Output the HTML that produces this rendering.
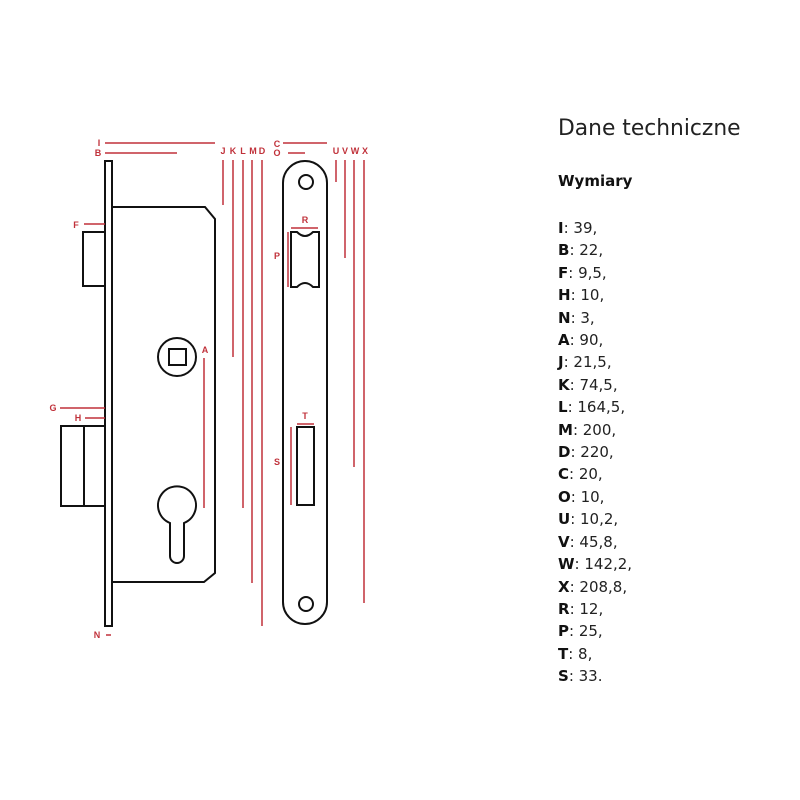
<!DOCTYPE html>
<html><head><meta charset="utf-8"><style>
body{margin:0;width:800px;height:800px;background:#fff;position:relative;overflow:hidden;font-family:"DejaVu Sans","Liberation Sans",sans-serif;color:#222}
.t{position:absolute;left:558px;top:116px;font-size:21.8px;color:#222}
.w{position:absolute;left:558px;top:172px;font-size:15px;font-weight:bold;color:#111}
.l{position:absolute;left:558px;top:217px;font-size:15px;line-height:22.4px;color:#222}
.l b{color:#111}
</style></head><body>
<svg width="800" height="800" style="position:absolute;left:0;top:0">
<g fill="none" stroke="#111" stroke-width="2">
<rect x="105" y="161" width="7" height="465"/>
<path d="M112 207 H205 L215 219 V573 L204 582 H112"/>
<rect x="83" y="232" width="22" height="54"/>
<rect x="61" y="426" width="44" height="80"/>
<line x1="84" y1="426" x2="84" y2="506"/>
<circle cx="177" cy="357" r="19"/>
<rect x="169" y="349" width="17" height="16"/>
<path d="M170 523 A19 19 0 1 1 184 523 V556 A7 7 0 0 1 170 556 Z"/>
<path d="M283 183 A22 22 0 0 1 327 183 V602 A22 22 0 0 1 283 602 Z"/>
<circle cx="306" cy="182" r="7"/>
<circle cx="306" cy="604" r="7"/>
<path d="M291 232 H297 Q305 240 313 232 H319 V287 H313 Q305 279 297 287 H291 Z"/>
<rect x="297" y="427" width="17" height="78"/>
</g>
<g stroke="#c0313a" stroke-width="1.5" fill="none">
<line x1="105" y1="143" x2="215" y2="143"/>
<line x1="105" y1="153" x2="177" y2="153"/>
<line x1="223" y1="160" x2="223" y2="205"/>
<line x1="233" y1="160" x2="233" y2="357"/>
<line x1="243" y1="160" x2="243" y2="508"/>
<line x1="252" y1="160" x2="252" y2="583"/>
<line x1="262" y1="160" x2="262" y2="626"/>
<line x1="283" y1="143" x2="327" y2="143"/>
<line x1="288" y1="153" x2="305" y2="153"/>
<line x1="336" y1="160" x2="336" y2="182"/>
<line x1="345" y1="160" x2="345" y2="258"/>
<line x1="354" y1="160" x2="354" y2="467"/>
<line x1="364" y1="160" x2="364" y2="603"/>
<line x1="84" y1="224" x2="105" y2="224"/>
<line x1="60" y1="408" x2="105" y2="408"/>
<line x1="85" y1="418" x2="105" y2="418"/>
<line x1="106" y1="635" x2="111" y2="635"/>
<line x1="204" y1="358" x2="204" y2="508"/>
<line x1="291" y1="228" x2="318" y2="228"/>
<line x1="288" y1="232" x2="288" y2="287"/>
<line x1="297" y1="424" x2="314" y2="424"/>
<line x1="291" y1="427" x2="291" y2="505"/>
</g>
<g fill="#c0313a" font-family="Liberation Sans,sans-serif" font-size="9" font-weight="bold" text-anchor="middle">
<text x="99" y="146">I</text><text x="98" y="156">B</text>
<text x="223" y="154">J</text><text x="233" y="154">K</text><text x="243" y="154">L</text><text x="253" y="154">M</text><text x="262" y="154">D</text>
<text x="277" y="147">C</text><text x="277" y="156">O</text>
<text x="336" y="154">U</text><text x="345" y="154">V</text><text x="355" y="154">W</text><text x="365" y="154">X</text>
<text x="76" y="228">F</text><text x="53" y="411">G</text><text x="78" y="421">H</text><text x="97" y="638">N</text>
<text x="205" y="353">A</text><text x="305" y="223">R</text><text x="277" y="259">P</text><text x="305" y="419">T</text><text x="277" y="465">S</text>
</g>
</svg>
<div class="t">Dane techniczne</div>
<div class="w">Wymiary</div>
<div class="l">
<b>I</b>: 39,<br><b>B</b>: 22,<br><b>F</b>: 9,5,<br><b>H</b>: 10,<br><b>N</b>: 3,<br><b>A</b>: 90,<br><b>J</b>: 21,5,<br><b>K</b>: 74,5,<br><b>L</b>: 164,5,<br><b>M</b>: 200,<br><b>D</b>: 220,<br><b>C</b>: 20,<br><b>O</b>: 10,<br><b>U</b>: 10,2,<br><b>V</b>: 45,8,<br><b>W</b>: 142,2,<br><b>X</b>: 208,8,<br><b>R</b>: 12,<br><b>P</b>: 25,<br><b>T</b>: 8,<br><b>S</b>: 33.
</div>
</body></html>
